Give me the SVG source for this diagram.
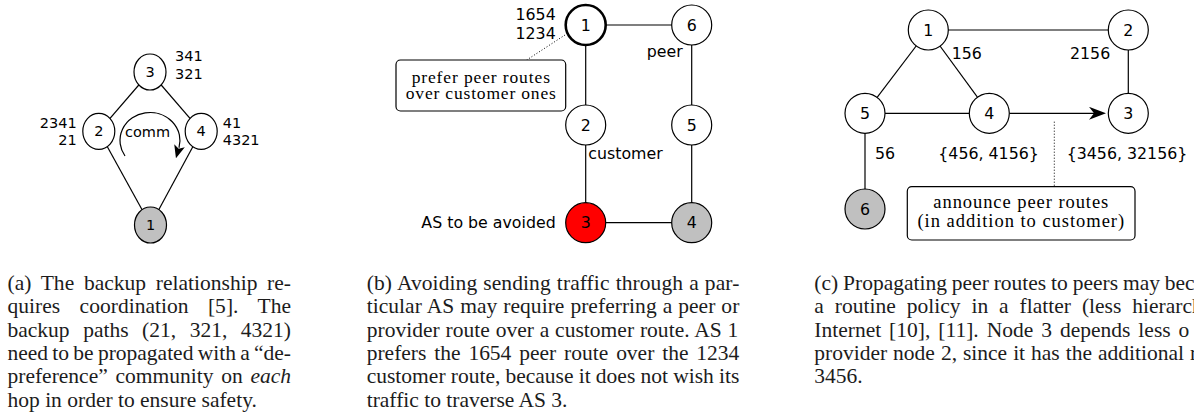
<svg xmlns="http://www.w3.org/2000/svg" width="1194" height="414" viewBox="0 0 1194 414">
  <style>
    .node { fill: #ffffff; stroke: #000000; stroke-width: 1.2; }
    .gray { fill: #c0c0c0; }
    .red { fill: #ff0000; }
    .thick { stroke-width: 2.6; }
    .edge { stroke: #000000; stroke-width: 1.2; fill: none; }
    .dot { stroke: #000000; stroke-width: 1; stroke-dasharray: 1 2; fill: none; }
    .box { fill: #ffffff; stroke: #000000; stroke-width: 1.2; }
    .lbl { font-family: "DejaVu Sans", "Liberation Sans", sans-serif; font-size: 15.8px; fill: #000000; }
    .sm { font-size: 14.5px; }
    .num { text-anchor: middle; dominant-baseline: central; }
    .end { text-anchor: end; }
    .note { font-family: "Liberation Serif", "Times New Roman", serif; text-anchor: middle; fill: #000000; }
    .cap { font-family: "Liberation Serif", "Times New Roman", serif; font-size: 21.5px; fill: #1c1c1c; }
  </style>
  <defs>
    <marker id="tipSmall" markerUnits="userSpaceOnUse" markerWidth="13" markerHeight="11" refX="2" refY="5.5" orient="auto">
      <path d="M0,0 L13,5.5 L0,11 L3,5.5 z" fill="#000000"/>
    </marker>
    <marker id="tipBig" markerUnits="userSpaceOnUse" markerWidth="17" markerHeight="13" refX="11" refY="6.5" orient="auto">
      <path d="M0,0 L17,6.5 L0,13 L5,6.5 z" fill="#000000"/>
    </marker>
  </defs>

  <!-- ===== (a) backup relationship ===== -->
  <g id="a-connectors">
    <line class="edge" x1="150" y1="72" x2="98.8" y2="131.3"/>
    <line class="edge" x1="150" y1="72" x2="201.2" y2="131.3"/>
    <line class="edge" x1="98.8" y1="131.3" x2="150.5" y2="225"/>
    <line class="edge" x1="201.2" y1="131.3" x2="150.5" y2="225"/>
    <path class="edge" d="M125,156 A30,28 0 1 1 178.98,147.75" stroke-width="1" marker-end="url(#tipSmall)"/>
  </g>
  <g id="a-n3">
    <ellipse class="node" cx="150" cy="72" rx="16" ry="18"/>
    <text class="lbl sm num" x="150" y="72">3</text>
  </g>
  <g id="a-n2">
    <ellipse class="node" cx="98.8" cy="131.3" rx="16" ry="18"/>
    <text class="lbl sm num" x="98.8" y="131.3">2</text>
  </g>
  <g id="a-n4">
    <ellipse class="node" cx="201.2" cy="131.3" rx="16" ry="18"/>
    <text class="lbl sm num" x="201.2" y="131.3">4</text>
  </g>
  <g id="a-n1">
    <ellipse class="node gray" cx="150.5" cy="225" rx="16" ry="18"/>
    <text class="lbl sm num" x="150.5" y="225">1</text>
  </g>
  <g id="a-labels">
    <text class="lbl sm" x="175" y="60.7">341</text>
    <text class="lbl sm" x="175" y="79">321</text>
    <text class="lbl sm end" x="76.7" y="127.7">2341</text>
    <text class="lbl sm end" x="76.7" y="145">21</text>
    <text class="lbl sm" x="222.7" y="127.7">41</text>
    <text class="lbl sm" x="222.7" y="145">4321</text>
    <text class="lbl sm" x="125" y="137.3">comm</text>
  </g>

  <!-- ===== (b) avoiding an AS ===== -->
  <g id="b-connectors">
    <line class="edge" x1="585.7" y1="25" x2="691.7" y2="25"/>
    <line class="edge" x1="585.7" y1="25" x2="585.7" y2="222.7"/>
    <line class="edge" x1="691.7" y1="25" x2="691.7" y2="222.7"/>
    <line class="edge" x1="585.7" y1="222.7" x2="691.7" y2="222.7"/>
    <line class="dot" x1="565" y1="35" x2="526.7" y2="60"/>
  </g>
  <g id="b-n1">
    <circle class="node thick" cx="585.7" cy="25" r="20"/>
    <text class="lbl num" x="585.7" y="25">1</text>
  </g>
  <g id="b-n6">
    <circle class="node" cx="691.7" cy="25" r="20"/>
    <text class="lbl num" x="691.7" y="25">6</text>
  </g>
  <g id="b-n2">
    <circle class="node" cx="585.7" cy="125" r="20"/>
    <text class="lbl num" x="585.7" y="125">2</text>
  </g>
  <g id="b-n5">
    <circle class="node" cx="691.7" cy="125" r="20"/>
    <text class="lbl num" x="691.7" y="125">5</text>
  </g>
  <g id="b-n3">
    <circle class="node red" cx="585.7" cy="222.7" r="20"/>
    <text class="lbl num" x="585.7" y="222.7">3</text>
  </g>
  <g id="b-n4">
    <circle class="node gray" cx="691.7" cy="222.7" r="20"/>
    <text class="lbl num" x="691.7" y="222.7">4</text>
  </g>
  <g id="b-note">
    <rect class="box" x="396" y="60" width="169.7" height="51" rx="4.5"/>
    <text class="note" x="480.8" y="82.7" font-size="17.5" textLength="138.3" lengthAdjust="spacing">prefer peer routes</text>
    <text class="note" x="480.8" y="99.3" font-size="17.5" textLength="150" lengthAdjust="spacing">over customer ones</text>
  </g>
  <g id="b-labels">
    <text class="lbl end" x="555.7" y="20">1654</text>
    <text class="lbl end" x="555.7" y="39">1234</text>
    <text class="lbl" x="646.7" y="56.7">peer</text>
    <text class="lbl" x="588.3" y="159.3">customer</text>
    <text class="lbl end" x="555.7" y="228.3">AS to be avoided</text>
  </g>

  <!-- ===== (c) peer routes to peers ===== -->
  <g id="c-connectors">
    <line class="edge" x1="928.3" y1="30" x2="1128.3" y2="30"/>
    <line class="edge" x1="1128.3" y1="30" x2="1128.3" y2="113.3"/>
    <line class="edge" x1="928.3" y1="30" x2="865" y2="113.3"/>
    <line class="edge" x1="928.3" y1="30" x2="989.3" y2="113.3"/>
    <line class="edge" x1="865" y1="113.3" x2="989.3" y2="113.3"/>
    <line class="edge" x1="865" y1="113.3" x2="865" y2="209"/>
    <line class="edge" x1="1009.3" y1="113.3" x2="1100" y2="113.3" stroke-width="2.6" marker-end="url(#tipBig)"/>
    <line class="dot" x1="1054.3" y1="121.7" x2="1054.3" y2="186.7"/>
  </g>
  <g id="c-n1">
    <circle class="node" cx="928.3" cy="30" r="20"/>
    <text class="lbl num" x="928.3" y="30">1</text>
  </g>
  <g id="c-n2">
    <circle class="node" cx="1128.3" cy="30" r="20"/>
    <text class="lbl num" x="1128.3" y="30">2</text>
  </g>
  <g id="c-n5">
    <circle class="node" cx="865" cy="113.3" r="20"/>
    <text class="lbl num" x="865" y="113.3">5</text>
  </g>
  <g id="c-n4">
    <circle class="node" cx="989.3" cy="113.3" r="20"/>
    <text class="lbl num" x="989.3" y="113.3">4</text>
  </g>
  <g id="c-n3">
    <circle class="node" cx="1128.3" cy="113.3" r="20"/>
    <text class="lbl num" x="1128.3" y="113.3">3</text>
  </g>
  <g id="c-n6">
    <circle class="node gray" cx="865" cy="209" r="20"/>
    <text class="lbl num" x="865" y="209">6</text>
  </g>
  <g id="c-note">
    <rect class="box" x="907.3" y="186.7" width="227.7" height="53.3" rx="4.5"/>
    <text class="note" x="1020.8" y="208.3" font-size="18.5" textLength="175" lengthAdjust="spacing">announce peer routes</text>
    <text class="note" x="1020.8" y="226.7" font-size="18.5" textLength="206.7" lengthAdjust="spacing">(in addition to customer)</text>
  </g>
  <g id="c-labels">
    <text class="lbl" x="951.7" y="59.3">156</text>
    <text class="lbl" x="1070" y="59.3">2156</text>
    <text class="lbl" x="875" y="159.3">56</text>
    <text class="lbl" x="938.3" y="159.3">{456, 4156}</text>
    <text class="lbl" x="1066.7" y="159.3">{3456, 32156}</text>
  </g>

  <!-- ===== captions ===== -->
  <g id="caption-a" class="cap">
    <text x="7.5" y="290" word-spacing="4.3" textLength="283.5" lengthAdjust="spacing">(a) The backup relationship re-</text>
    <text x="7.5" y="313.3" word-spacing="14.1" textLength="283.5" lengthAdjust="spacing">quires coordination [5]. The</text>
    <text x="7.5" y="336.7" word-spacing="8.2" textLength="283.5" lengthAdjust="spacing">backup paths (21, 321, 4321)</text>
    <text x="7.5" y="360" word-spacing="-1.1" textLength="283.5" lengthAdjust="spacing">need to be propagated with a “de-</text>
    <text x="7.5" y="383.3" word-spacing="2.4" textLength="283.5" lengthAdjust="spacing">preference” community on <tspan font-style="italic">each</tspan></text>
    <text x="7.5" y="406.7">hop in order to ensure safety.</text>
  </g>
  <g id="caption-b" class="cap">
    <text x="366.7" y="290" word-spacing="0.6" textLength="372.6" lengthAdjust="spacing">(b) Avoiding sending traffic through a par-</text>
    <text x="366.7" y="313.3" word-spacing="0.6" textLength="372.6" lengthAdjust="spacing">ticular AS may require preferring a peer or</text>
    <text x="366.7" y="336.7" word-spacing="0.4" textLength="371.6" lengthAdjust="spacing">provider route over a customer route. AS 1</text>
    <text x="366.7" y="360" word-spacing="2.5" textLength="372.6" lengthAdjust="spacing">prefers the 1654 peer route over the 1234</text>
    <text x="366.7" y="383.3" word-spacing="-0.2" textLength="372.6" lengthAdjust="spacing">customer route, because it does not wish its</text>
    <text x="366.7" y="406.7">traffic to traverse AS 3.</text>
  </g>
  <g id="caption-c" class="cap">
    <text x="814.3" y="290" word-spacing="-0.5">(c) Propagating peer routes to peers may bec</text>
    <text x="814.3" y="313.3" word-spacing="5.6">a routine policy in a flatter (less hierarch</text>
    <text x="814.3" y="336.7" word-spacing="2.6">Internet [10], [11]. Node 3 depends less o</text>
    <text x="814.3" y="360" word-spacing="0.6">provider node 2, since it has the additional r</text>
    <text x="814.3" y="383.3">3456.</text>
  </g>
</svg>
